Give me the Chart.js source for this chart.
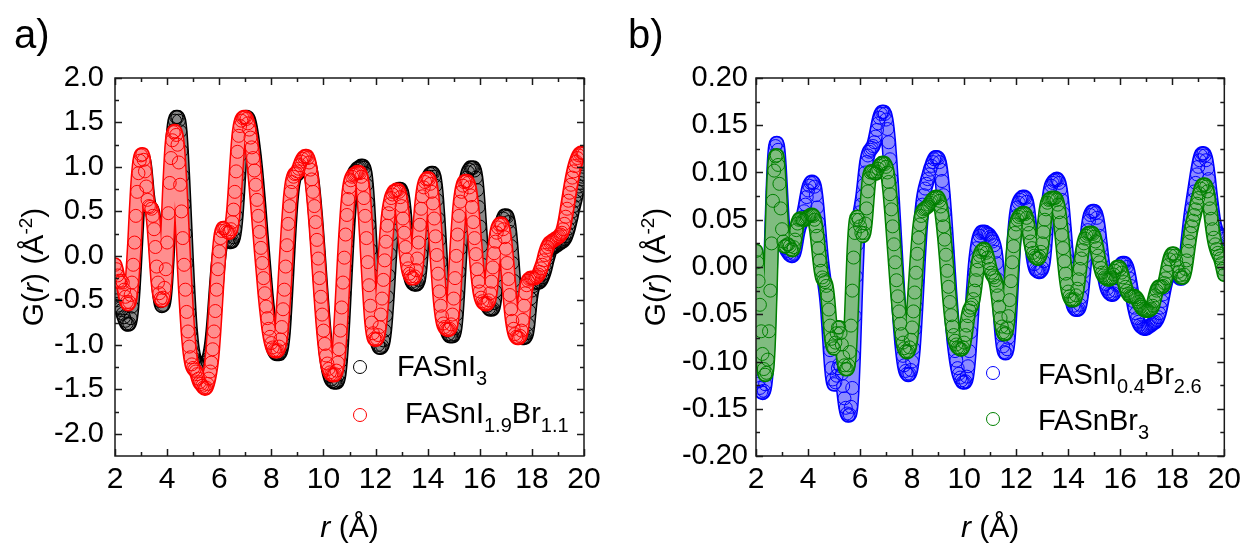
<!DOCTYPE html>
<html>
<head>
<meta charset="utf-8">
<script src="https://cdn.jsdelivr.net/npm/chart.js@4.4.0/dist/chart.umd.min.js"></script>
<style>
  body { margin: 0; background: #fff; }
  #wrap { position: relative; width: 1247px; height: 546px; overflow: hidden; }
  canvas { position: absolute; top: 0; }
</style>
</head>
<body>
<div id="wrap">
  <canvas id="chartA" width="620" height="546" style="left:0"></canvas>
  <canvas id="chartB" width="627" height="546" style="left:620px"></canvas>
</div>
<script>
// r (Å), sampled every 0.05
const r = [
  2,2.05,2.1,2.15,2.2,2.25,2.3,2.35,2.4,2.45,2.5,2.55,2.6,2.65,2.7,2.75,2.8,2.85,2.9,2.95,
  3,3.05,3.1,3.15,3.2,3.25,3.3,3.35,3.4,3.45,3.5,3.55,3.6,3.65,3.7,3.75,3.8,3.85,3.9,3.95,
  4,4.05,4.1,4.15,4.2,4.25,4.3,4.35,4.4,4.45,4.5,4.55,4.6,4.65,4.7,4.75,4.8,4.85,4.9,4.95,
  5,5.05,5.1,5.15,5.2,5.25,5.3,5.35,5.4,5.45,5.5,5.55,5.6,5.65,5.7,5.75,5.8,5.85,5.9,5.95,
  6,6.05,6.1,6.15,6.2,6.25,6.3,6.35,6.4,6.45,6.5,6.55,6.6,6.65,6.7,6.75,6.8,6.85,6.9,6.95,
  7,7.05,7.1,7.15,7.2,7.25,7.3,7.35,7.4,7.45,7.5,7.55,7.6,7.65,7.7,7.75,7.8,7.85,7.9,7.95,
  8,8.05,8.1,8.15,8.2,8.25,8.3,8.35,8.4,8.45,8.5,8.55,8.6,8.65,8.7,8.75,8.8,8.85,8.9,8.95,
  9,9.05,9.1,9.15,9.2,9.25,9.3,9.35,9.4,9.45,9.5,9.55,9.6,9.65,9.7,9.75,9.8,9.85,9.9,9.95,
  10,10.05,10.1,10.15,10.2,10.25,10.3,10.35,10.4,10.45,10.5,10.55,10.6,10.65,10.7,10.75,10.8,10.85,10.9,10.95,
  11,11.05,11.1,11.15,11.2,11.25,11.3,11.35,11.4,11.45,11.5,11.55,11.6,11.65,11.7,11.75,11.8,11.85,11.9,11.95,
  12,12.05,12.1,12.15,12.2,12.25,12.3,12.35,12.4,12.45,12.5,12.55,12.6,12.65,12.7,12.75,12.8,12.85,12.9,12.95,
  13,13.05,13.1,13.15,13.2,13.25,13.3,13.35,13.4,13.45,13.5,13.55,13.6,13.65,13.7,13.75,13.8,13.85,13.9,13.95,
  14,14.05,14.1,14.15,14.2,14.25,14.3,14.35,14.4,14.45,14.5,14.55,14.6,14.65,14.7,14.75,14.8,14.85,14.9,14.95,
  15,15.05,15.1,15.15,15.2,15.25,15.3,15.35,15.4,15.45,15.5,15.55,15.6,15.65,15.7,15.75,15.8,15.85,15.9,15.95,
  16,16.05,16.1,16.15,16.2,16.25,16.3,16.35,16.4,16.45,16.5,16.55,16.6,16.65,16.7,16.75,16.8,16.85,16.9,16.95,
  17,17.05,17.1,17.15,17.2,17.25,17.3,17.35,17.4,17.45,17.5,17.55,17.6,17.65,17.7,17.75,17.8,17.85,17.9,17.95,
  18,18.05,18.1,18.15,18.2,18.25,18.3,18.35,18.4,18.45,18.5,18.55,18.6,18.65,18.7,18.75,18.8,18.85,18.9,18.95,
  19,19.05,19.1,19.15,19.2,19.25,19.3,19.35,19.4,19.45,19.5,19.55,19.6,19.65,19.7,19.75,19.8,19.85,19.9,19.95,
  20
];

// panel a: FASnI3
const gFASnI3 = [
  -0.40,-0.50,-0.56,-0.58,-0.59,-0.61,-0.65,-0.69,-0.73,-0.76,-0.77,-0.76,-0.70,-0.57,-0.37,-0.12,0.16,0.45,0.72,0.92,
  1.05,1.10,1.08,0.99,0.84,0.68,0.58,0.54,0.53,0.49,0.38,0.20,-0.02,-0.23,-0.40,-0.51,-0.56,-0.55,-0.47,-0.30,
  -0.05,0.27,0.62,0.95,1.22,1.41,1.52,1.56,1.56,1.52,1.40,1.18,0.90,0.58,0.25,-0.08,-0.38,-0.64,-0.85,-1.00,
  -1.10,-1.16,-1.19,-1.21,-1.22,-1.23,-1.24,-1.25,-1.25,-1.24,-1.22,-1.19,-1.15,-1.09,-1.00,-0.87,-0.70,-0.50,-0.30,-0.12,
  0.02,0.12,0.18,0.21,0.21,0.20,0.18,0.17,0.16,0.16,0.17,0.21,0.30,0.45,0.66,0.90,1.13,1.32,1.45,1.52,
  1.55,1.56,1.55,1.51,1.44,1.35,1.24,1.12,0.98,0.82,0.65,0.47,0.28,0.10,-0.08,-0.26,-0.43,-0.58,-0.72,-0.84,
  -0.94,-1.01,-1.06,-1.09,-1.10,-1.10,-1.10,-1.08,-1.02,-0.90,-0.70,-0.45,-0.18,0.10,0.36,0.58,0.74,0.84,0.89,0.91,
  0.92,0.94,0.97,1.00,1.03,1.05,1.07,1.07,1.06,1.03,0.97,0.88,0.76,0.61,0.44,0.25,0.05,-0.16,-0.37,-0.57,
  -0.76,-0.93,-1.08,-1.20,-1.29,-1.35,-1.39,-1.41,-1.42,-1.42,-1.42,-1.40,-1.33,-1.19,-0.98,-0.72,-0.43,-0.14,0.14,0.39,
  0.59,0.74,0.84,0.90,0.94,0.96,0.98,0.99,1.00,1.01,1.01,0.99,0.93,0.80,0.60,0.35,0.07,-0.21,-0.46,-0.67,
  -0.83,-0.94,-1.00,-1.03,-1.03,-1.01,-0.95,-0.84,-0.67,-0.46,-0.22,0.02,0.24,0.42,0.56,0.65,0.71,0.74,0.75,0.75,
  0.72,0.64,0.51,0.34,0.15,-0.02,-0.15,-0.24,-0.29,-0.31,-0.32,-0.32,-0.31,-0.27,-0.16,0.02,0.24,0.45,0.62,0.75,
  0.84,0.89,0.92,0.93,0.93,0.89,0.79,0.63,0.42,0.18,-0.07,-0.31,-0.51,-0.66,-0.77,-0.84,-0.88,-0.90,-0.90,-0.90,
  -0.88,-0.81,-0.66,-0.44,-0.18,0.08,0.32,0.52,0.68,0.80,0.88,0.94,0.97,0.99,0.99,0.99,0.96,0.88,0.74,0.55,
  0.33,0.11,-0.10,-0.28,-0.42,-0.51,-0.56,-0.59,-0.60,-0.60,-0.59,-0.53,-0.40,-0.22,-0.03,0.14,0.28,0.37,0.42,0.45,
  0.45,0.44,0.38,0.27,0.11,-0.08,-0.28,-0.47,-0.63,-0.75,-0.83,-0.88,-0.91,-0.92,-0.92,-0.91,-0.87,-0.77,-0.62,-0.48,
  -0.39,-0.34,-0.31,-0.30,-0.30,-0.30,-0.29,-0.27,-0.24,-0.20,-0.15,-0.09,-0.03,0.02,0.06,0.08,0.09,0.10,0.11,0.12,
  0.13,0.14,0.15,0.16,0.17,0.19,0.22,0.26,0.31,0.37,0.43,0.50,0.56,0.62,0.68,0.73,0.78,0.82,0.86,0.89,
  0.92
];

// panel a: FASnI1.9Br1.1
const gFASnI19Br11 = [
  -0.10,-0.15,-0.22,-0.28,-0.30,-0.28,-0.30,-0.38,-0.46,-0.52,-0.54,-0.52,-0.44,-0.30,-0.10,0.15,0.45,0.72,0.93,1.07,
  1.13,1.14,1.08,0.95,0.78,0.63,0.56,0.55,0.53,0.45,0.30,0.10,-0.12,-0.30,-0.42,-0.48,-0.50,-0.47,-0.36,-0.15,
  0.15,0.48,0.82,1.10,1.30,1.39,1.40,1.36,1.25,1.05,0.80,0.50,0.20,-0.10,-0.38,-0.63,-0.85,-1.02,-1.14,-1.22,
  -1.26,-1.28,-1.30,-1.33,-1.38,-1.42,-1.44,-1.46,-1.48,-1.49,-1.48,-1.44,-1.38,-1.30,-1.20,-1.05,-0.85,-0.62,-0.38,-0.15,
  0.05,0.20,0.28,0.31,0.31,0.29,0.27,0.26,0.27,0.30,0.38,0.52,0.72,0.95,1.17,1.35,1.46,1.52,1.55,1.56,
  1.56,1.54,1.49,1.42,1.33,1.22,1.10,0.96,0.80,0.63,0.45,0.27,0.09,-0.08,-0.25,-0.42,-0.57,-0.70,-0.82,-0.91,
  -0.98,-1.03,-1.06,-1.07,-1.07,-1.06,-1.02,-0.94,-0.80,-0.60,-0.38,-0.12,0.12,0.36,0.56,0.72,0.83,0.89,0.92,0.93,
  0.95,0.98,1.02,1.06,1.09,1.11,1.12,1.12,1.10,1.05,0.97,0.86,0.72,0.56,0.38,0.18,-0.03,-0.25,-0.46,-0.66,
  -0.84,-0.99,-1.12,-1.21,-1.27,-1.31,-1.33,-1.34,-1.34,-1.33,-1.29,-1.20,-1.05,-0.84,-0.58,-0.30,-0.02,0.24,0.46,0.64,
  0.77,0.85,0.89,0.91,0.92,0.93,0.94,0.94,0.93,0.89,0.80,0.65,0.45,0.20,-0.07,-0.33,-0.56,-0.75,-0.87,-0.93,
  -0.94,-0.93,-0.89,-0.80,-0.66,-0.48,-0.27,-0.05,0.16,0.34,0.48,0.58,0.65,0.69,0.72,0.73,0.74,0.74,0.72,0.66,
  0.56,0.42,0.26,0.10,-0.04,-0.14,-0.20,-0.23,-0.25,-0.25,-0.23,-0.16,-0.03,0.15,0.35,0.53,0.67,0.77,0.83,0.86,
  0.87,0.86,0.81,0.72,0.59,0.42,0.22,0.01,-0.20,-0.40,-0.56,-0.68,-0.76,-0.80,-0.82,-0.83,-0.83,-0.82,-0.77,-0.66,
  -0.48,-0.25,0.00,0.24,0.45,0.61,0.72,0.79,0.83,0.84,0.84,0.82,0.77,0.68,0.55,0.38,0.20,0.02,-0.15,-0.29,
  -0.40,-0.47,-0.51,-0.53,-0.54,-0.54,-0.53,-0.50,-0.42,-0.29,-0.13,0.03,0.16,0.26,0.32,0.35,0.36,0.35,0.30,0.21,
  0.08,-0.08,-0.26,-0.44,-0.60,-0.73,-0.82,-0.88,-0.91,-0.92,-0.92,-0.90,-0.84,-0.72,-0.56,-0.42,-0.33,-0.28,-0.26,-0.25,
  -0.25,-0.25,-0.25,-0.24,-0.23,-0.21,-0.18,-0.14,-0.10,-0.05,0.01,0.06,0.10,0.13,0.15,0.16,0.17,0.18,0.19,0.20,
  0.21,0.22,0.24,0.26,0.30,0.36,0.44,0.53,0.62,0.71,0.80,0.88,0.95,1.01,1.06,1.10,1.13,1.15,1.16,1.16,
  1.15
];

// panel b: FASnI0.4Br2.6
const gFASnI04Br26 = [
  -0.095,-0.110,-0.121,-0.128,-0.132,-0.133,-0.131,-0.124,-0.110,-0.087,-0.053,-0.010,0.037,0.080,0.112,0.128,0.131,0.124,0.106,0.081,
  0.055,0.036,0.026,0.020,0.017,0.015,0.013,0.012,0.012,0.014,0.019,0.027,0.035,0.041,0.045,0.049,0.053,0.059,0.066,0.074,
  0.081,0.086,0.089,0.090,0.089,0.085,0.076,0.063,0.047,0.030,0.014,0.001,-0.010,-0.020,-0.031,-0.046,-0.066,-0.088,-0.107,-0.119,
  -0.124,-0.122,-0.115,-0.107,-0.103,-0.105,-0.113,-0.126,-0.139,-0.149,-0.155,-0.157,-0.156,-0.148,-0.128,-0.094,-0.052,-0.010,0.024,0.046,
  0.058,0.066,0.075,0.087,0.100,0.111,0.118,0.122,0.124,0.126,0.128,0.132,0.138,0.145,0.152,0.158,0.162,0.164,0.164,0.162,
  0.156,0.146,0.132,0.114,0.093,0.070,0.046,0.022,-0.002,-0.025,-0.046,-0.065,-0.081,-0.094,-0.104,-0.110,-0.113,-0.114,-0.113,-0.109,
  -0.100,-0.086,-0.066,-0.042,-0.016,0.010,0.033,0.052,0.066,0.076,0.083,0.088,0.093,0.098,0.103,0.107,0.111,0.114,0.116,0.116,
  0.115,0.111,0.103,0.091,0.076,0.058,0.038,0.017,-0.005,-0.026,-0.045,-0.062,-0.077,-0.089,-0.099,-0.107,-0.113,-0.117,-0.120,-0.122,
  -0.122,-0.121,-0.116,-0.105,-0.089,-0.069,-0.047,-0.025,-0.006,0.009,0.020,0.028,0.033,0.036,0.037,0.037,0.037,0.036,0.035,0.034,
  0.032,0.030,0.027,0.023,0.016,0.004,-0.013,-0.034,-0.055,-0.072,-0.084,-0.090,-0.091,-0.087,-0.075,-0.055,-0.030,-0.004,0.020,0.040,
  0.054,0.063,0.068,0.071,0.073,0.074,0.074,0.073,0.069,0.061,0.049,0.035,0.022,0.011,0.003,-0.002,-0.004,-0.005,-0.005,-0.004,
  -0.001,0.006,0.020,0.038,0.056,0.070,0.080,0.086,0.089,0.091,0.092,0.093,0.092,0.089,0.082,0.071,0.057,0.041,0.024,0.008,
  -0.006,-0.018,-0.028,-0.036,-0.041,-0.044,-0.045,-0.045,-0.044,-0.040,-0.032,-0.020,-0.005,0.011,0.026,0.039,0.049,0.055,0.058,0.059,
  0.059,0.057,0.052,0.044,0.033,0.021,0.009,-0.002,-0.011,-0.018,-0.023,-0.026,-0.028,-0.029,-0.029,-0.028,-0.025,-0.019,-0.012,-0.005,
  0.000,0.003,0.004,0.004,0.003,0.000,-0.005,-0.012,-0.020,-0.028,-0.036,-0.043,-0.049,-0.054,-0.058,-0.061,-0.063,-0.064,-0.065,-0.065,
  -0.065,-0.064,-0.063,-0.062,-0.061,-0.060,-0.059,-0.058,-0.056,-0.053,-0.049,-0.043,-0.036,-0.029,-0.022,-0.016,-0.011,-0.007,-0.004,-0.002,
  -0.001,-0.001,-0.002,-0.004,-0.007,-0.010,-0.012,-0.012,-0.010,-0.005,0.003,0.014,0.027,0.040,0.052,0.062,0.071,0.080,0.089,0.098,
  0.106,0.113,0.118,0.120,0.120,0.118,0.113,0.104,0.093,0.080,0.068,0.057,0.048,0.042,0.038,0.036,0.035,0.034,0.033,0.032,
  0.030
];

// panel b: FASnBr3
const gFASnBr3 = [
  0.017,0.005,-0.015,-0.040,-0.068,-0.092,-0.108,-0.114,-0.112,-0.098,-0.068,-0.025,0.025,0.070,0.102,0.117,0.118,0.108,0.088,0.062,
  0.040,0.027,0.022,0.022,0.024,0.024,0.022,0.019,0.018,0.021,0.029,0.039,0.046,0.050,0.051,0.051,0.050,0.050,0.051,0.052,
  0.053,0.054,0.055,0.055,0.054,0.050,0.043,0.033,0.020,0.007,-0.004,-0.011,-0.014,-0.016,-0.020,-0.030,-0.045,-0.062,-0.076,-0.084,
  -0.086,-0.080,-0.070,-0.064,-0.064,-0.070,-0.082,-0.095,-0.104,-0.108,-0.108,-0.104,-0.090,-0.062,-0.025,0.010,0.036,0.050,0.053,0.050,
  0.043,0.036,0.033,0.036,0.046,0.062,0.080,0.094,0.100,0.101,0.100,0.099,0.099,0.101,0.104,0.107,0.109,0.110,0.110,0.109,
  0.106,0.100,0.090,0.077,0.061,0.043,0.024,0.005,-0.014,-0.031,-0.047,-0.060,-0.071,-0.080,-0.086,-0.089,-0.090,-0.089,-0.085,-0.077,
  -0.064,-0.047,-0.027,-0.006,0.014,0.031,0.045,0.054,0.059,0.061,0.062,0.063,0.064,0.066,0.068,0.070,0.072,0.073,0.074,0.074,
  0.073,0.070,0.064,0.055,0.043,0.029,0.013,-0.004,-0.021,-0.037,-0.051,-0.063,-0.072,-0.078,-0.082,-0.085,-0.086,-0.087,-0.087,-0.085,
  -0.080,-0.072,-0.062,-0.052,-0.046,-0.043,-0.040,-0.034,-0.025,-0.014,-0.003,0.006,0.012,0.016,0.018,0.019,0.018,0.015,0.010,0.004,
  -0.002,-0.006,-0.009,-0.011,-0.014,-0.020,-0.030,-0.042,-0.054,-0.063,-0.069,-0.071,-0.070,-0.064,-0.052,-0.035,-0.015,0.005,0.022,0.036,
  0.045,0.050,0.053,0.055,0.056,0.057,0.057,0.056,0.052,0.045,0.036,0.027,0.020,0.015,0.012,0.010,0.009,0.009,0.011,0.016,
  0.025,0.037,0.050,0.061,0.068,0.071,0.072,0.073,0.073,0.073,0.073,0.071,0.066,0.058,0.047,0.034,0.020,0.006,-0.007,-0.018,
  -0.026,-0.031,-0.034,-0.035,-0.035,-0.034,-0.030,-0.023,-0.013,-0.002,0.009,0.018,0.025,0.030,0.033,0.035,0.036,0.036,0.036,0.035,
  0.032,0.027,0.020,0.012,0.005,-0.001,-0.006,-0.009,-0.011,-0.012,-0.013,-0.013,-0.013,-0.012,-0.011,-0.008,-0.004,-0.001,0.000,0.000,
  -0.002,-0.006,-0.011,-0.016,-0.021,-0.025,-0.028,-0.030,-0.031,-0.031,-0.031,-0.031,-0.032,-0.034,-0.037,-0.040,-0.042,-0.044,-0.045,-0.046,
  -0.046,-0.046,-0.046,-0.045,-0.044,-0.041,-0.036,-0.030,-0.025,-0.022,-0.021,-0.021,-0.021,-0.020,-0.017,-0.012,-0.005,0.002,0.008,0.012,
  0.014,0.014,0.012,0.007,0.001,-0.005,-0.009,-0.011,-0.011,-0.008,-0.002,0.007,0.017,0.027,0.036,0.043,0.049,0.055,0.061,0.067,
  0.073,0.078,0.083,0.086,0.087,0.087,0.085,0.080,0.072,0.062,0.051,0.040,0.031,0.024,0.019,0.015,0.012,0.009,0.004,-0.002,
  -0.008
];

const xTicks = [2, 4, 6, 8, 10, 12, 14, 16, 18, 20];
const xTickLabels = ['2', '4', '6', '8', '10', '12', '14', '16', '18', '20'];
const xMinor = [3, 5, 7, 9, 11, 13, 15, 17, 19];

const yTicksA = [-2.0, -1.5, -1.0, -0.5, 0.0, 0.5, 1.0, 1.5, 2.0];
const yTickLabelsA = ['-2.0', '-1.5', '-1.0', '-0.5', '0.0', '0.5', '1.0', '1.5', '2.0'];
const yMinorA = [-1.75, -1.25, -0.75, -0.25, 0.25, 0.75, 1.25, 1.75];

const yTicksB = [-0.20, -0.15, -0.10, -0.05, 0.00, 0.05, 0.10, 0.15, 0.20];
const yTickLabelsB = ['-0.20', '-0.15', '-0.10', '-0.05', '0.00', '0.05', '0.10', '0.15', '0.20'];
const yMinorB = [-0.175, -0.125, -0.075, -0.025, 0.025, 0.075, 0.125, 0.175];

const FONT = "'Liberation Sans', Arial, sans-serif";
const fMain = `30px ${FONT}`;
const fItal = `italic 30px ${FONT}`;
const fSup = `19px ${FONT}`;
const fLeg = `29px ${FONT}`;
const fSub = `20px ${FONT}`;

function drawRuns(ctx, runs, x, y, align) {
  let total = 0;
  runs.forEach(p => { ctx.font = p.font; total += ctx.measureText(p.t).width; });
  let cx = align === 'center' ? x - total / 2 : x;
  runs.forEach(p => {
    ctx.font = p.font;
    ctx.fillText(p.t, cx, y + (p.dy || 0));
    cx += ctx.measureText(p.t).width;
  });
}

// frame, inward ticks on all four sides
const framePlugin = {
  id: 'frame',
  afterDatasetsDraw(chart, args, opts) {
    const { ctx, chartArea: a } = chart;
    const xs = chart.scales.x, ys = chart.scales.y;
    ctx.save();
    ctx.strokeStyle = '#1a1a1a';
    ctx.lineWidth = 1.5;
    ctx.beginPath();
    const markX = (v, len) => {
      const px = Math.round(xs.getPixelForValue(v)) + 0.5;
      ctx.moveTo(px, a.bottom); ctx.lineTo(px, a.bottom - len);
      ctx.moveTo(px, a.top); ctx.lineTo(px, a.top + len);
    };
    const markY = (v, len) => {
      const py = Math.round(ys.getPixelForValue(v)) + 0.5;
      ctx.moveTo(a.left, py); ctx.lineTo(a.left + len, py);
      ctx.moveTo(a.right, py); ctx.lineTo(a.right - len, py);
    };
    xTicks.forEach(v => markX(v, 7));
    xMinor.forEach(v => markX(v, 4));
    opts.yMajor.forEach(v => markY(v, 7));
    opts.yMinor.forEach(v => markY(v, 4));
    ctx.stroke();
    ctx.strokeRect(a.left, a.top, a.right - a.left, a.bottom - a.top);
    ctx.restore();
  }
};

// panel letter, axis titles and legend with sub/superscripts
const textPlugin = {
  id: 'texts',
  afterDraw(chart, args, o) {
    const ctx = chart.ctx;
    const a = chart.chartArea;
    ctx.save();
    ctx.fillStyle = '#000';
    ctx.textBaseline = 'alphabetic';
    ctx.textAlign = 'left';
    ctx.font = `40px ${FONT}`;
    ctx.fillText(o.letter, o.letterX, 48);

    drawRuns(ctx, [{ t: 'r', font: fItal }, { t: ' (Å)', font: fMain }], (a.left + a.right) / 2, 537, 'center');

    ctx.save();
    ctx.translate(o.yTitleX, (a.top + a.bottom) / 2);
    ctx.rotate(-Math.PI / 2);
    drawRuns(ctx, [
      { t: 'G(', font: fMain }, { t: 'r', font: fItal }, { t: ') (Å', font: fMain },
      { t: '-2', font: fSup, dy: -11 }, { t: ')', font: fMain }
    ], 0, 0, 'center');
    ctx.restore();

    o.legend.forEach(item => {
      ctx.beginPath();
      ctx.strokeStyle = item.color;
      ctx.lineWidth = 1;
      ctx.arc(item.cx, item.cy, 6.5, 0, Math.PI * 2);
      ctx.stroke();
      drawRuns(ctx, item.runs.map(p => ({ t: p[0], font: p[1] ? fSub : fLeg, dy: p[1] ? 9 : 0 })), item.tx, item.ty, 'left');
    });
    ctx.restore();
  }
};

// each measured series is drawn as a dense stack of open circles:
// a wide outline band, a lighter core band and the ring markers on top
function series(label, values, color, light, order) {
  const base = {
    data: values,
    showLine: true,
    cubicInterpolationMode: 'monotone',
    borderCapStyle: 'round',
    borderJoinStyle: 'round'
  };
  return [
    Object.assign({}, base, {
      label: label + ' edge', order: order + 1,
      borderColor: color, borderWidth: 15, pointRadius: 0
    }),
    Object.assign({}, base, {
      label, order,
      borderColor: light, borderWidth: 12,
      pointBorderColor: color,
      pointBackgroundColor: 'rgba(0,0,0,0)',
      pointRadius: 6.5,
      pointBorderWidth: 1,
      pointStyle: 'circle'
    })
  ];
}

function makePanel(id, datasets, yMin, yMax, yTicks, yLabels, yMinor, yAxisWidth, padRight, yPad, texts) {
  new Chart(document.getElementById(id), {
    type: 'line',
    data: { labels: r, datasets },
    options: {
      responsive: false,
      animation: false,
      events: [],
      layout: { padding: { top: 78, right: padRight, left: 0, bottom: 0 } },
      plugins: {
        legend: { display: false },
        tooltip: { enabled: false },
        frame: { yMajor: yTicks, yMinor },
        texts
      },
      scales: {
        x: {
          type: 'linear',
          min: 2,
          max: 20,
          afterBuildTicks: s => { s.ticks = xTicks.map(v => ({ value: v })); },
          afterFit: s => { s.height = 90; },
          grid: { display: false, drawTicks: false },
          border: { display: false },
          ticks: {
            autoSkip: false,
            maxRotation: 0,
            padding: 6,
            color: '#000',
            font: { family: FONT, size: 30 },
            callback: (v, i) => xTickLabels[i]
          }
        },
        y: {
          type: 'linear',
          min: yMin,
          max: yMax,
          afterBuildTicks: s => { s.ticks = yTicks.map(v => ({ value: v })); },
          afterFit: s => { s.width = yAxisWidth; },
          grid: { display: false, drawTicks: false },
          border: { display: false },
          ticks: {
            autoSkip: false,
            padding: yPad,
            color: '#000',
            font: { family: FONT, size: 29 },
            callback: (v, i) => yLabels[i]
          }
        }
      }
    },
    plugins: [framePlugin, textPlugin]
  });
}

makePanel('chartA', [
  ...series('FASnI3', gFASnI3, '#000000', '#8a8a8a', 2),
  ...series('FASnI1.9Br1.1', gFASnI19Br11, '#ff0000', '#ff8e8e', 0)
], -2.25, 2.0, yTicksA, yTickLabelsA, yMinorA, 115, 36, 11, {
  letter: 'a)', letterX: 14, yTitleX: 43,
  legend: [
    { color: '#000000', cx: 360, cy: 367, tx: 397, ty: 376, runs: [['FASnI', 0], ['3', 1]] },
    { color: '#ff0000', cx: 360, cy: 415, tx: 405, ty: 423, runs: [['FASnI', 0], ['1.9', 1], ['Br', 0], ['1.1', 1]] }
  ]
});

makePanel('chartB', [
  ...series('FASnI0.4Br2.6', gFASnI04Br26, '#0000ff', '#8c8cff', 2),
  ...series('FASnBr3', gFASnBr3, '#008000', '#80bc80', 0)
], -0.20, 0.20, yTicksB, yTickLabelsB, yMinorB, 136, 22, 8, {
  letter: 'b)', letterX: 8, yTitleX: 45,
  legend: [
    { color: '#0000ff', cx: 373, cy: 373, tx: 418, ty: 384, runs: [['FASnI', 0], ['0.4', 1], ['Br', 0], ['2.6', 1]] },
    { color: '#008000', cx: 373, cy: 419, tx: 418, ty: 430, runs: [['FASnBr', 0], ['3', 1]] }
  ]
});
</script>
</body>
</html>
